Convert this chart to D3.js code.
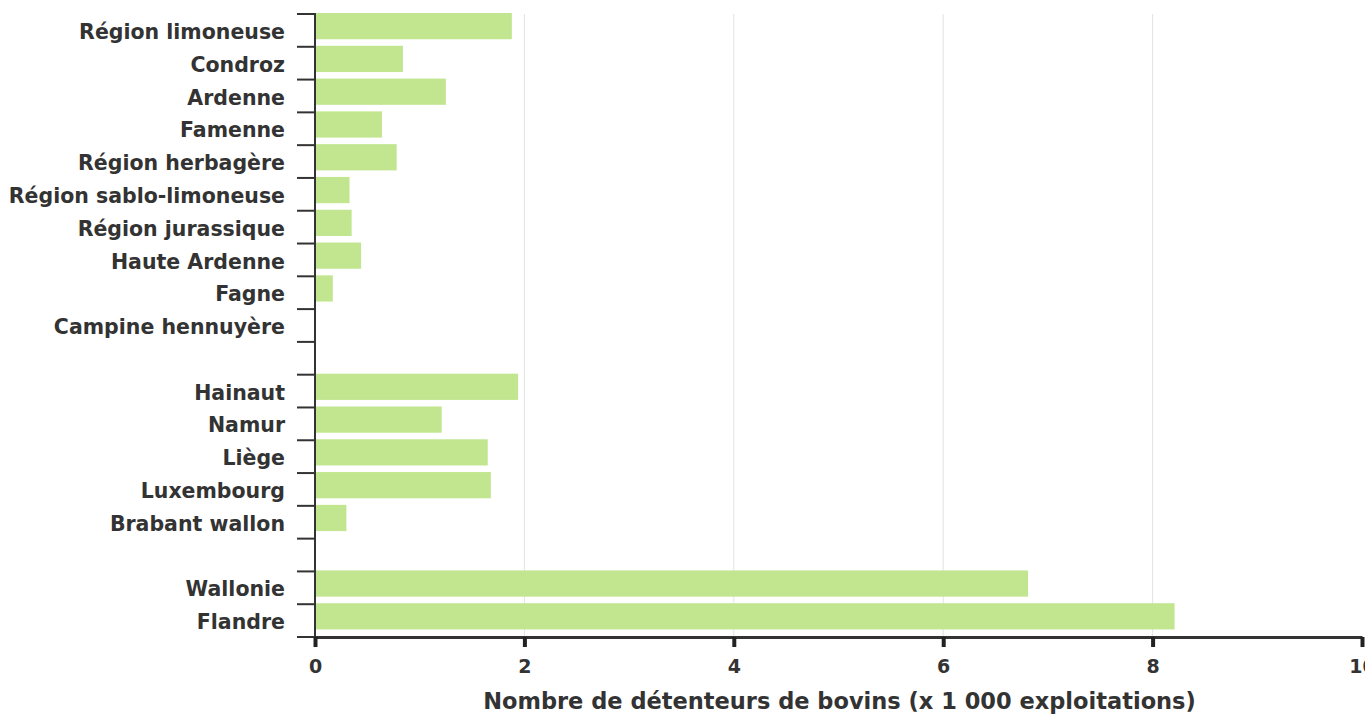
<!DOCTYPE html>
<html><head><meta charset="utf-8">
<script src="https://cdn.jsdelivr.net/npm/d3@7"></script>
<style>body{margin:0;background:#fff}svg{display:block}</style>
</head><body>
<script>
const categories = ["Région limoneuse","Condroz","Ardenne","Famenne","Région herbagère","Région sablo-limoneuse","Région jurassique","Haute Ardenne","Fagne","Campine hennuyère"," ","Hainaut","Namur","Liège","Luxembourg","Brabant wallon","  ","Wallonie","Flandre"];
const values = [1.88,0.84,1.25,0.64,0.78,0.33,0.35,0.44,0.17,0.01,null,1.94,1.21,1.65,1.68,0.30,null,6.81,8.21];
const xTicks = [0,2,4,6,8,10];
const xLabel = "Nombre de détenteurs de bovins (x 1 000 exploitations)";

const W=1365,H=714;
const m={left:315,right:3,top:14,bottom:77};
const svg=d3.select("body").append("svg").attr("width",W).attr("height",H);
const font="'DejaVu Sans', sans-serif";
const x=d3.scaleLinear().domain([0,10]).range([m.left,W-m.right]);
const yb=d3.scaleBand().domain(categories).range([m.top,H-m.bottom]);

// grid
svg.append("g").selectAll("line").data(xTicks.filter(d=>d>0&&d<10)).join("line")
 .attr("x1",d=>x(d)).attr("x2",d=>x(d)).attr("y1",m.top).attr("y2",H-m.bottom)
 .attr("stroke","#e3e3e3").attr("stroke-width",1);

// bars
svg.append("g").selectAll("rect").data(categories.map((c,i)=>({c,v:values[i]})).filter(d=>d.v!=null)).join("rect")
 .attr("x",x(0)+1).attr("y",d=>yb(d.c)-1).attr("height",yb.bandwidth()*0.8)
 .attr("width",d=>Math.max(0,x(d.v)-x(0)-1)).attr("fill","#c2e690");

// y axis: ticks at band boundaries
const gy=svg.append("g");
const bounds=categories.map(c=>yb(c)).concat([H-m.bottom]);
gy.selectAll("line.t").data(bounds).join("line").attr("class","t")
 .attr("x1",m.left-18).attr("x2",m.left).attr("y1",d=>d).attr("y2",d=>d)
 .attr("stroke","#333").attr("stroke-width",2);
gy.append("line").attr("x1",m.left).attr("x2",m.left).attr("y1",m.top-1).attr("y2",H-m.bottom)
 .attr("stroke","#333").attr("stroke-width",2);
gy.selectAll("text").data(categories).join("text")
 .attr("x",m.left-30).attr("y",d=>yb(d)+yb.bandwidth()/2).attr("dy","0.42em")
 .attr("text-anchor","end").attr("font-family",font).attr("font-weight","bold")
 .attr("font-size",20.5).attr("fill","#333").text(d=>d.trim());

// x axis
const gx=svg.append("g").attr("transform",`translate(0,${H-m.bottom})`)
 .call(d3.axisBottom(x).tickValues(xTicks).tickSize(10).tickSizeOuter(0).tickFormat(d3.format("d")));
gx.select(".domain").attr("stroke","#333").attr("stroke-width",3);
gx.selectAll(".tick line").attr("stroke","#222").attr("stroke-width",4);
gx.selectAll(".tick text").attr("font-family",font).attr("font-weight","bold").attr("font-size",19).attr("fill","#333")
 .attr("y",36).attr("dy",null);
svg.append("text").attr("x",(m.left+W-m.right)/2+1).attr("y",H-5).attr("text-anchor","middle")
 .attr("font-family",font).attr("font-weight","bold").attr("font-size",22.5).attr("fill","#333").text(xLabel);
</script>
</body></html>
